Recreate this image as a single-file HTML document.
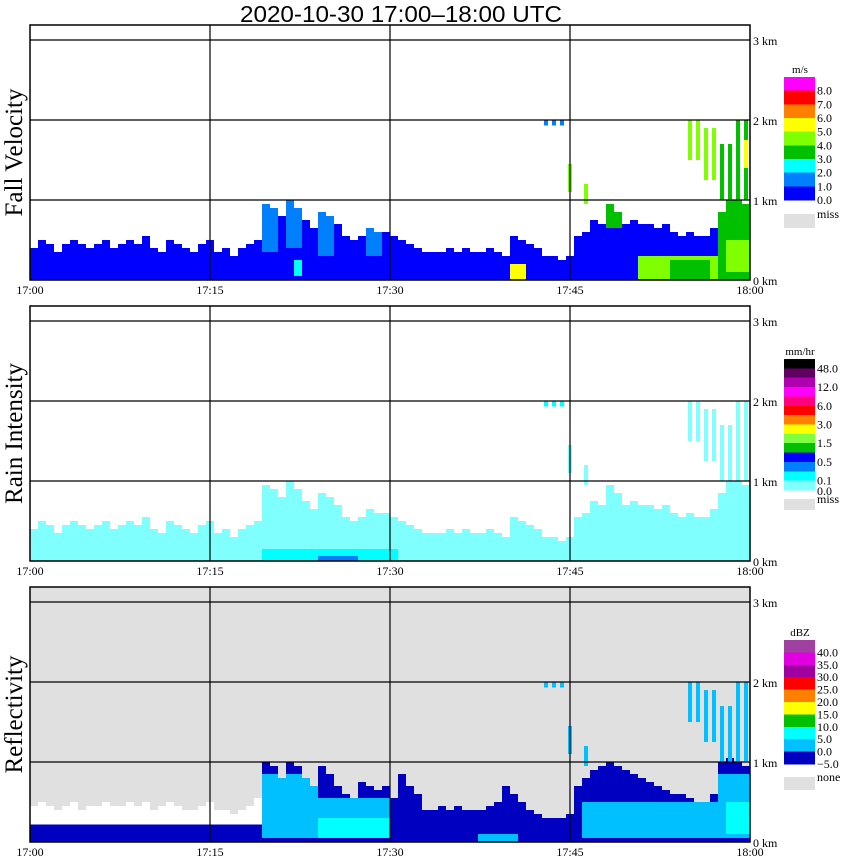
<!DOCTYPE html>
<html><head><meta charset="utf-8"><style>
html,body{margin:0;padding:0;background:#fff;}
svg{display:block;font-family:"Liberation Serif",serif;}
</style></head><body>
<svg id="chart" width="850" height="868" viewBox="0 0 850 868" xmlns="http://www.w3.org/2000/svg">
<text x="240" y="22" font-size="23" font-family="Liberation Sans, sans-serif" textLength="322" lengthAdjust="spacingAndGlyphs">2020-10-30   17:00–18:00 UTC</text>
</svg>
<script>
// ---------- data ----------
const timeLabels = ["17:00","17:15","17:30","17:45","18:00"];
const heightLabels = ["0 km","1 km","2 km","3 km"];
// echo-top height (km) per 40-second column, fall-velocity / rain panels
const velTops = [0.4,0.5,0.45,0.35,0.45,0.5,0.45,0.4,0.45,0.5,0.4,0.45,0.5,0.45,0.55,0.4,0.35,0.5,0.45,0.4,0.35,0.45,0.5,
 0.35,0.4,0.3,0.4,0.45,0.5,
 0.95,0.9,0.8,1.0,0.9,0.75,0.65,0.85,0.8,0.7,0.55,0.5,0.55,0.65,0.6,0.6,0.55,
 0.5,0.45,0.4,0.35,0.35,0.35,0.4,0.35,0.4,0.35,0.35,0.4,0.35,0.3,0.55,0.5,0.45,0.4,0.3,0.3,0.25,0.3,
 0.55,0.6,0.75,0.7,0.95,0.85,0.7,0.75,0.7,0.7,0.65,0.7,0.6,0.55,0.6,0.55,0.55,0.65,0.85,1.0,1.0,0.95];
const rainTops = velTops.slice();
// echo-top height (km), reflectivity panel
const reflTops = [0.45,0.5,0.45,0.4,0.45,0.5,0.4,0.45,0.45,0.5,0.45,0.45,0.5,0.45,0.5,0.4,0.45,0.5,0.45,0.4,0.4,0.45,0.5,
 0.4,0.4,0.35,0.4,0.45,0.55,
 1.0,0.95,0.8,1.0,0.95,0.8,0.7,0.95,0.85,0.7,0.6,0.55,0.75,0.7,0.65,0.7,0.55,
 0.85,0.7,0.6,0.4,0.4,0.45,0.4,0.45,0.4,0.4,0.4,0.45,0.5,0.7,0.6,0.5,0.4,0.35,0.3,0.3,0.3,0.35,
 0.7,0.8,0.9,0.95,1.0,0.95,0.9,0.85,0.8,0.75,0.7,0.65,0.6,0.6,0.55,0.5,0.5,0.6,1.0,1.05,1.0,0.95];
const velBase = 0.5, rainBase = 0.05, reflBase = -2.5;
// overlays within the low echo (clipped to echo top): start col, end col, bottom km, top km, value
const velOvStart = [29,32,36,42,33,60,76,80,72,86,87];
const velOvEnd   = [30,33,37,43,33,61,85,84,73,89,89];
const velOvBot   = [0.35,0.4,0.3,0.3,0.05,0,0,0,0.65,0,0.1];
const velOvTop   = [1,1,1,1,0.25,0.2,0.3,0.25,1,1,0.5];
const velOvVal   = [1.5,1.5,1.5,1.5,2.5,5.5,4.5,3.5,3.5,3.5,4.5];
const rainOvStart = [29,36,86];
const rainOvEnd   = [45,40,89];
const rainOvBot   = [0,0,0.3];
const rainOvTop   = [0.15,0.06,0.5];
const rainOvVal   = [0.3,0.7,0.05];
const reflOvStart = [0,23,29,36,36,56,69,86,87];
const reflOvEnd   = [22,28,35,44,44,60,85,89,89];
const reflOvBot   = [0.22,0.22,0.05,0.05,0.05,0,0.05,0.05,0.1];
const reflOvTop   = [0.6,0.6,0.85,0.55,0.3,0.1,0.5,0.85,0.5];
const reflOvVal   = [-7,-7,2.5,2.5,7.5,2.5,2.5,2.5,7.5];
// elevated echoes: start col, end col, bottom km, top km, value
const elStart = [64,67,69,82,84,86,88,89];
const elEnd   = [66,67,69,83,85,87,89,89];
const elBot   = [1.93,1.1,0.95,1.5,1.25,1.0,1.0,1.4];
const elTop   = [2.0,1.45,1.2,2.0,1.9,1.7,2.0,1.75];
const velElVal  = [1.5,4.5,4.5,4.5,4.5,3.5,3.5,5.5];
const rainElVal = [0.3,0.05,0.05,0.05,0.05,0.05,0.05,0.05];
const reflElVal = [2.5,2.5,2.5,2.5,2.5,2.5,2.5,2.5];
// legends
const velLegColors = ["#ff00ff","#ff0000","#ff8000","#ffff00","#80ff00","#00c000","#00ffff","#0080ff","#0000ff"];
const velLegLabels = ["8.0","7.0","6.0","5.0","4.0","3.0","2.0","1.0","0.0"];
const rainLegColors = ["#000000","#600060","#b000b0","#ff00ff","#ff0080","#ff0000","#ff8000","#ffff00","#80ff40","#00c000","#0000ff","#0080ff","#00ffff","#80ffff"];
const rainLegLabels = ["48.0","12.0","6.0","3.0","1.5","0.5","0.1"];
const reflLegColors = ["#a040a0","#e000e0","#a000a0","#ff0000","#ff8000","#ffff00","#00c000","#00ffff","#00c0ff","#0000c0"];
const reflLegLabels = ["40.0","35.0","30.0","25.0","20.0","15.0","10.0","5.0","0.0","−5.0"];

// ---------- color scales ----------
function velColor(v){ if(v<0) return "#0000ff"; const i=Math.min(8,Math.floor(v)); return velLegColors[8-i]; }
function rainColor(r){ const th=[0.1,0.5,1,1.5,2,3,4,6,8,12,24,48,96]; const c=rainLegColors.slice().reverse(); let i=0; while(i<th.length&&r>=th[i]) i++; return c[i]; }
function reflColor(z){ if(z<-5) return "#ffffff"; const i=Math.min(9,Math.floor((z+5)/5)); return reflLegColors[9-i]; }

// ---------- layout ----------
const NS="http://www.w3.org/2000/svg";
const svg=document.getElementById('chart');
const X0=30, X1=750, NCOL=velTops.length, COLW=(X1-X0)/NCOL, KMPX=80;
function xCol(c){ return X0+c*COLW; }
function mk(tag,attrs,parent){ const e=document.createElementNS(NS,tag); for(const k in attrs) e.setAttribute(k,attrs[k]); (parent||svg).appendChild(e); return e; }

const panels=[
 {name:"fall-velocity",title:"Fall Velocity",top:25,bottom:280,bg:"#ffffff",tops:velTops,base:velBase,col:velColor,
  os:velOvStart,oe:velOvEnd,ob:velOvBot,ot:velOvTop,ov:velOvVal,ev:velElVal,
  leg:velLegColors,labs:velLegLabels,unit:"m/s",legTop:77,legBot:200,miss:"miss",missY:214,missH:14,step:1,off:1},
 {name:"rain-intensity",title:"Rain Intensity",top:306,bottom:561,bg:"#ffffff",tops:rainTops,base:rainBase,col:rainColor,
  os:rainOvStart,oe:rainOvEnd,ob:rainOvBot,ot:rainOvTop,ov:rainOvVal,ev:rainElVal,
  leg:rainLegColors,labs:rainLegLabels,unit:"mm/hr",legTop:359,legBot:490,miss:"miss",missY:499,missH:11,step:2,off:1},
 {name:"reflectivity",title:"Reflectivity",top:587,bottom:842,bg:"#e0e0e0",tops:reflTops,base:reflBase,col:reflColor,
  os:reflOvStart,oe:reflOvEnd,ob:reflOvBot,ot:reflOvTop,ov:reflOvVal,ev:reflElVal,
  leg:reflLegColors,labs:reflLegLabels,unit:"dBZ",legTop:640,legBot:764,miss:"none",missY:777,missH:13,step:1,off:1}
];

panels.forEach(p=>{
  const g=mk('g',{});
  
  
  const yKm=km=>p.bottom-km*KMPX;
  const bg=mk('rect',{x:X0,y:p.top,width:X1-X0,height:p.bottom-p.top,fill:p.bg},g);
  
  
  const marks=mk('g',{'shape-rendering':'crispEdges'},g);
  
  
  p.tops.forEach((t,c)=>{
    const r=mk('rect',{x:xCol(c),y:yKm(t),width:COLW,height:t*KMPX,fill:p.col(p.base)},marks);
    
    
  });
  p.os.forEach((s,i)=>{
    for(let c=s;c<=p.oe[i];c++){
      const top=Math.min(p.ot[i],p.tops[c]); const bot=p.ob[i];
      if(top<=bot) continue;
      const r=mk('rect',{x:xCol(c),y:yKm(top),width:COLW,height:(top-bot)*KMPX,fill:p.col(p.ov[i])},marks);
      
      
    }
  });
  elStart.forEach((s,i)=>{
    for(let c=s;c<=elEnd[i];c++){
      const r=mk('rect',{x:xCol(c)+2,y:yKm(elTop[i]),width:COLW-4,height:(elTop[i]-elBot[i])*KMPX,fill:p.col(p.ev[i])},marks);
      
      
    }
  });
  for(let k=1;k<=3;k++){
    const l=mk('line',{x1:X0,x2:X1,y1:yKm(k),y2:yKm(k),stroke:'#000','stroke-width':1.2},g);
    
    
  }
  for(let i=1;i<timeLabels.length-1;i++){
    const x=X0+i*(X1-X0)/(timeLabels.length-1);
    const l=mk('line',{x1:x,x2:x,y1:p.top,y2:p.bottom,stroke:'#000','stroke-width':1.2},g);
    
    
  }
  const fr=mk('rect',{x:X0,y:p.top,width:X1-X0,height:p.bottom-p.top,fill:'none',stroke:'#000','stroke-width':1.5},g);
  
  
  heightLabels.forEach((lab,k)=>{
    const t=mk('text',{x:753,y:yKm(k)+5,'font-size':12},g); t.textContent=lab;
    
    
  });
  timeLabels.forEach((lab,i)=>{
    const x=X0+i*(X1-X0)/(timeLabels.length-1);
    const t=mk('text',{x:x,y:p.bottom+14,'font-size':12,'text-anchor':'middle'},g); t.textContent=lab;
    
    
  });
  const cy=(p.top+p.bottom)/2;
  const tt=mk('text',{x:0,y:0,'font-size':25,'text-anchor':'middle',transform:`translate(22,${cy}) rotate(-90)`},g); tt.textContent=p.title;
  
  
  const lg=mk('g',{'shape-rendering':'crispEdges'},g);
  
  
  const bh=(p.legBot-p.legTop)/p.leg.length;
  const ut=mk('text',{x:800,y:p.legTop-4,'font-size':11,'text-anchor':'middle'},lg); ut.textContent=p.unit;
  
  
  p.leg.forEach((c,i)=>{
    const r=mk('rect',{x:784,y:p.legTop+i*bh,width:31,height:bh+0.5,fill:c},lg);
    
    
  });
  p.labs.forEach((lab,i)=>{
    const yb=p.legTop+(p.off+i*p.step)*bh;
    const t=mk('text',{x:817,y:yb+4,'font-size':12},lg); t.textContent=lab;
    
    
  });
  if(p.name==='rain-intensity'){
    const t=mk('text',{x:817,y:p.legBot+5,'font-size':12},lg); t.textContent='0.0';
    
    
  }
  const mr=mk('rect',{x:784,y:p.missY,width:31,height:p.missH,fill:'#e0e0e0'},lg);
  
  
  const mt=mk('text',{x:817,y:p.missY+4,'font-size':12},lg); mt.textContent=p.miss;
  
  
});
</script>
</body></html>
